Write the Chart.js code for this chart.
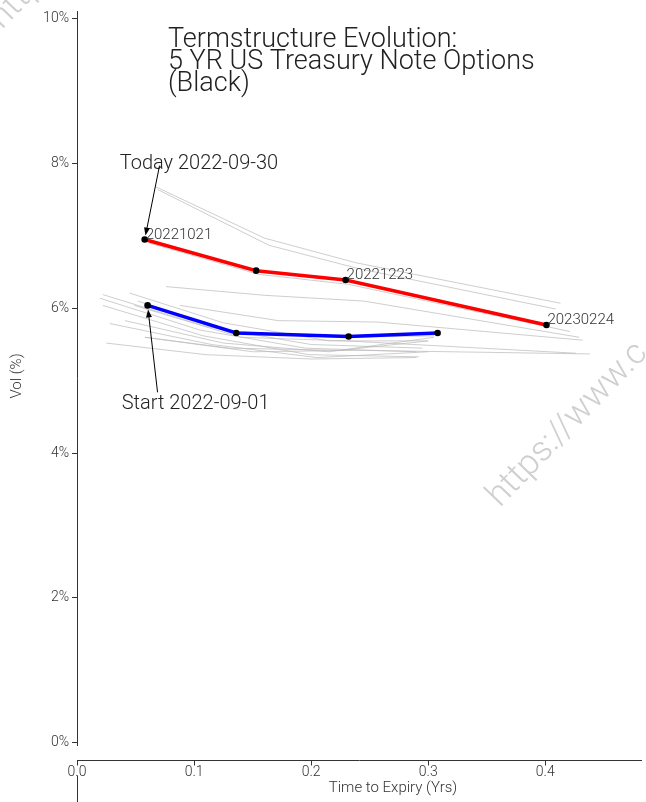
<!DOCTYPE html>
<html><head><meta charset="utf-8">
<script src="https://cdn.jsdelivr.net/npm/chart.js@4"></script>
<style>html,body{margin:0;padding:0;background:#fff;overflow:hidden}canvas{display:block}</style>
</head><body>
<canvas id="c" width="646" height="802"></canvas>
<script>
// ---- data ----
const titleLines = ['Termstructure Evolution:', '5 YR US Treasury Note Options', '(Black)'];
const xTitle = 'Time to Expiry (Yrs)';
const yTitle = 'Vol (%)';
const xTicks = [0, 0.1, 0.2, 0.3, 0.4];
const yTicks = [0, 2, 4, 6, 8, 10];

const todayName = 'Today 2022-09-30';
const todayX = [0.0578, 0.153, 0.2294, 0.401];
const todayVol = [6.95, 6.52, 6.39, 5.77];
const todayLabels = ['20221021', null, '20221223', '20230224'];

const startName = 'Start 2022-09-01';
const startX = [0.0603, 0.136, 0.232, 0.308];
const startVol = [6.04, 5.66, 5.61, 5.66];

// intermediate days (grey history)
const histX = [
  [0.067, 0.160, 0.238, 0.413],
  [0.069, 0.164, 0.240, 0.409],
  [0.062, 0.155, 0.232, 0.421],
  [0.076, 0.160, 0.245, 0.429],
  [0.088, 0.172, 0.257, 0.432],
  [0.049, 0.140, 0.230, 0.426],
  [0.058, 0.150, 0.240, 0.438],
  [0.0195, 0.105, 0.195, 0.290],
  [0.022, 0.110, 0.200, 0.295],
  [0.045, 0.125, 0.215, 0.300],
  [0.022, 0.108, 0.198, 0.292],
  [0.028, 0.115, 0.205, 0.300],
  [0.025, 0.110, 0.200, 0.290],
  [0.041, 0.125, 0.215, 0.305],
  [0.058, 0.130, 0.225, 0.300],
  [0.052, 0.132, 0.228, 0.305]
];
const histVol = [
  [7.68, 6.97, 6.63, 6.07],
  [7.64, 6.87, 6.55, 5.99],
  [6.90, 6.47, 6.33, 5.68],
  [6.30, 6.18, 6.10, 5.60],
  [6.04, 5.83, 5.81, 5.56],
  [6.04, 5.60, 5.55, 5.38],
  [5.60, 5.40, 5.42, 5.37],
  [6.14, 5.70, 5.45, 5.40],
  [6.19, 5.75, 5.50, 5.45],
  [6.21, 5.80, 5.55, 5.55],
  [6.04, 5.62, 5.36, 5.33],
  [5.79, 5.50, 5.32, 5.40],
  [5.52, 5.36, 5.30, 5.32],
  [5.83, 5.52, 5.40, 5.60],
  [5.60, 5.45, 5.42, 5.55],
  [6.10, 5.68, 5.60, 5.62]
];

// annotation anchors (data space): text left/baseline and arrow tail
const todayTextAt = [0.0365, 7.93];
const todayTailAt = [0.0705, 7.97];
const startTextAt = [0.0382, 4.61];
const startTailAt = [0.0688, 4.84];

const watermark = 'https://www.c';

// ---- chart ----
const pts = (xs, ys) => xs.map((v, i) => ({x: v, y: ys[i]}));
const FONT = 'Roboto';

function build() {
  const datasets = [
    {data: pts(todayX, todayVol), borderColor: '#ff0000', borderWidth: 3.5, pointRadius: 3.3,
     pointBackgroundColor: '#000', pointBorderWidth: 0, order: 0},
    {data: pts(startX, startVol), borderColor: '#0000ff', borderWidth: 3.5, pointRadius: 3.3,
     pointBackgroundColor: '#000', pointBorderWidth: 0, order: 1}
  ];
  histX.forEach((xs, i) => datasets.push({
    data: pts(xs, histVol[i]), borderColor: 'rgba(185,185,185,0.7)', borderWidth: 1,
    pointRadius: 0, order: 2 + i
  }));

  const arrow = (ctx, x0, y0, x1, y1) => {
    const dx = x1 - x0, dy = y1 - y0, L = Math.hypot(dx, dy);
    const ux = dx / L, uy = dy / L;
    const tx = x1 - ux * 4, ty = y1 - uy * 4;
    ctx.beginPath(); ctx.moveTo(x0, y0); ctx.lineTo(tx - ux * 5, ty - uy * 5); ctx.stroke();
    ctx.beginPath();
    ctx.moveTo(tx, ty);
    ctx.lineTo(tx - ux * 8 - uy * 3, ty - uy * 8 + ux * 3);
    ctx.lineTo(tx - ux * 8 + uy * 3, ty - uy * 8 - ux * 3);
    ctx.closePath(); ctx.fill();
  };

  const deco = {
    id: 'deco',
    afterDraw(chart) {
      const {ctx, chartArea: a, scales: {x, y}} = chart;
      ctx.save();
      // offset x axis spine + ticks
      const axisY = a.bottom + 15.5;
      ctx.strokeStyle = '#333'; ctx.lineWidth = 1;
      ctx.beginPath();
      ctx.moveTo(a.left, axisY); ctx.lineTo(a.right, axisY);
      xTicks.forEach(v => {
        const px = Math.round(x.getPixelForValue(v)) + 0.5;
        ctx.moveTo(px, axisY); ctx.lineTo(px, axisY + 5);
      });
      ctx.moveTo(Math.round(a.left) + 0.5, axisY + 15); ctx.lineTo(Math.round(a.left) + 0.5, chart.height);
      ctx.stroke();

      // axis titles
      ctx.fillStyle = '#333';
      ctx.font = `300 15px ${FONT}`;
      ctx.textAlign = 'center'; ctx.textBaseline = 'middle';
      ctx.fillText(xTitle, 393, 788);
      ctx.save(); ctx.translate(17, 376); ctx.rotate(-Math.PI / 2);
      ctx.fillText(yTitle, 0, 0); ctx.restore();

      // main title
      ctx.fillStyle = '#222';
      ctx.font = `300 27px ${FONT}`;
      ctx.textAlign = 'left'; ctx.textBaseline = 'alphabetic';
      titleLines.forEach((t, i) => ctx.fillText(t, 168, 47 + i * 22));

      // point labels
      ctx.fillStyle = '#333';
      ctx.font = `300 15px ${FONT}`;
      todayLabels.forEach((t, i) => {
        if (!t) return;
        ctx.fillText(t, x.getPixelForValue(todayX[i]) + 1, y.getPixelForValue(todayVol[i]) - 1);
      });

      // annotations
      ctx.fillStyle = '#222';
      ctx.font = `300 20px ${FONT}`;
      ctx.fillText(todayName, x.getPixelForValue(todayTextAt[0]), y.getPixelForValue(todayTextAt[1]));
      ctx.fillText(startName, x.getPixelForValue(startTextAt[0]), y.getPixelForValue(startTextAt[1]));
      ctx.strokeStyle = '#000'; ctx.fillStyle = '#000'; ctx.lineWidth = 1;
      arrow(ctx, x.getPixelForValue(todayTailAt[0]), y.getPixelForValue(todayTailAt[1]),
            x.getPixelForValue(todayX[0]), y.getPixelForValue(todayVol[0]));
      arrow(ctx, x.getPixelForValue(startTailAt[0]), y.getPixelForValue(startTailAt[1]),
            x.getPixelForValue(startX[0]), y.getPixelForValue(startVol[0]));

      // watermark
      ctx.fillStyle = 'rgba(175,175,175,0.6)';
      ctx.font = `300 35px ${FONT}`;
      [[500, 508], [2, 30]].forEach(([wx, wy]) => {
        ctx.save(); ctx.translate(wx, wy); ctx.rotate(-46 * Math.PI / 180);
        ctx.fillText(watermark, 0, 0); ctx.restore();
      });
      ctx.restore();
    }
  };

  Chart.defaults.font.family = FONT;
  Chart.defaults.font.weight = '300';
  Chart.defaults.color = '#333';

  new Chart(document.getElementById('c'), {
    type: 'line',
    data: {datasets},
    options: {
      responsive: false, animation: false, devicePixelRatio: 1,
      layout: {padding: {top: 11, right: 1, left: 0, bottom: 0}},
      plugins: {legend: {display: false}, tooltip: {enabled: false}},
      elements: {line: {tension: 0}},
      scales: {
        x: {
          type: 'linear', min: 0, max: 0.4826,
          afterBuildTicks: s => { s.ticks = xTicks.map(v => ({value: v})); },
          afterFit: s => { s.height = 57; },
          grid: {display: false, drawTicks: false},
          border: {display: false},
          ticks: {padding: 19, font: {size: 14, weight: '300'}, color: '#333',
                  callback: v => v.toFixed(1), maxRotation: 0, autoSkip: false}
        },
        y: {
          type: 'linear', min: -0.03, max: 10.1,
          afterBuildTicks: s => { s.ticks = yTicks.map(v => ({value: v})); },
          afterFit: s => { s.width = 77; },
          grid: {display: true, drawOnChartArea: false, drawTicks: true, tickLength: 5, color: '#333', lineWidth: 1},
          border: {display: true, color: '#333', width: 1},
          ticks: {padding: 3, font: {size: 14, weight: '300'}, color: '#333',
                  callback: v => v + '%', autoSkip: false}
        }
      }
    },
    plugins: [deco]
  });
}

if (document.fonts && document.fonts.load) {
  Promise.all([document.fonts.load(`300 14px ${FONT}`), document.fonts.load(`400 14px ${FONT}`)])
    .then(build, build);
} else { build(); }
</script>
</body></html>
